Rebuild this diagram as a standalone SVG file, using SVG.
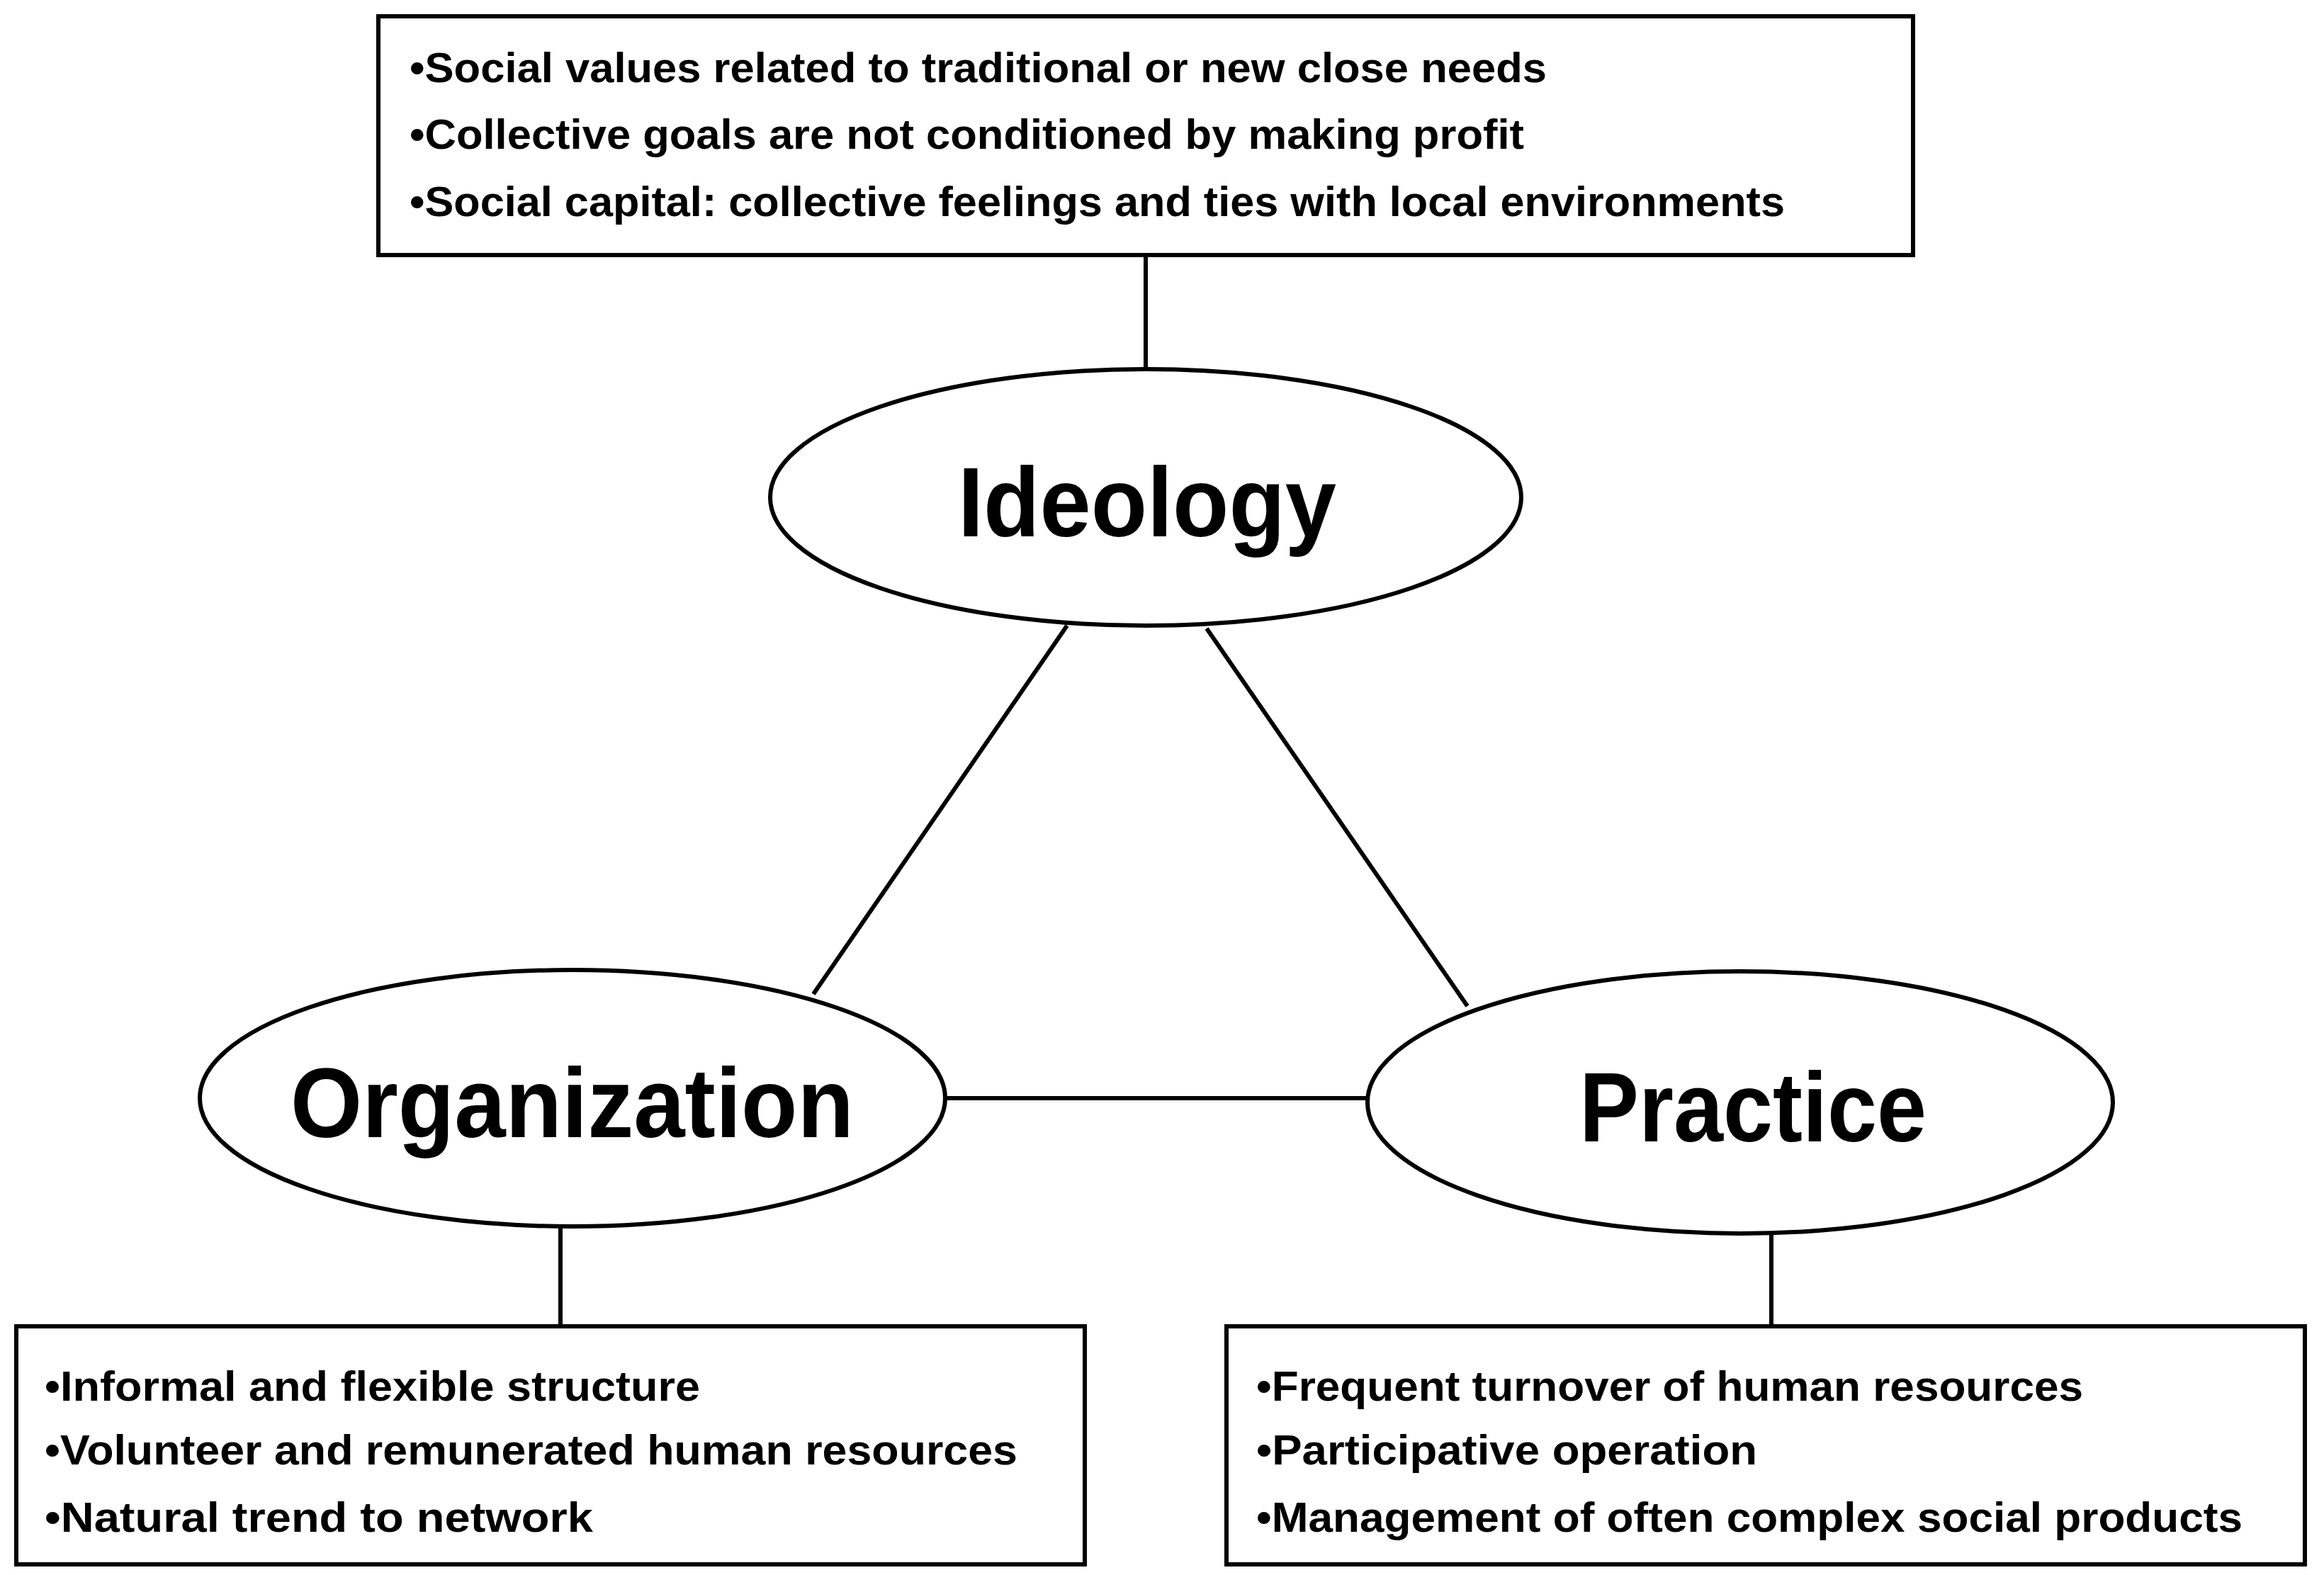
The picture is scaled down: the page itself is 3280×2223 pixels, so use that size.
<svg xmlns="http://www.w3.org/2000/svg" width="3280" height="2223" viewBox="0 0 3280 2223">
<style>
.s{fill:none;stroke:#000;stroke-width:6}
.e{fill:#fff;stroke:#000;stroke-width:6}
.t{font-family:"Liberation Sans",Arial,sans-serif;font-weight:bold;font-size:60px;fill:#000}
.b{font-family:"Liberation Sans",Arial,sans-serif;font-weight:bold;font-size:140px;fill:#000}
</style>
<rect width="3280" height="2223" fill="#fff"/>
<g id="connectors">
<line class="s" x1="1617" y1="360" x2="1617" y2="521"/>
<line class="s" x1="1506" y1="883" x2="1148" y2="1403"/>
<line class="s" x1="1703" y1="887" x2="2071" y2="1420"/>
<line class="s" x1="1333" y1="1550" x2="1930" y2="1550"/>
<line class="s" x1="791" y1="1731" x2="791" y2="1872"/>
<line class="s" x1="2500" y1="1741" x2="2500" y2="1872"/>
</g>
<g id="ideology-box">
<rect class="e" x="534" y="23" width="2166" height="337"/>
<text class="t" x="578" y="116" textLength="1605" lengthAdjust="spacingAndGlyphs">•Social values related to traditional or new close needs</text>
<text class="t" x="578" y="210" textLength="1573" lengthAdjust="spacingAndGlyphs">•Collective goals are not conditioned by making profit</text>
<text class="t" x="578" y="305" textLength="1941" lengthAdjust="spacingAndGlyphs">•Social capital: collective feelings and ties with local environments</text>
</g>
<g id="ideology">
<ellipse class="e" cx="1617" cy="702" rx="530" ry="181"/>
<text class="b" x="1352" y="757" textLength="534" lengthAdjust="spacingAndGlyphs">Ideology</text>
</g>
<g id="organization">
<ellipse class="e" cx="808" cy="1550" rx="526" ry="181"/>
<text class="b" x="410" y="1605" textLength="795" lengthAdjust="spacingAndGlyphs">Organization</text>
</g>
<g id="practice">
<ellipse class="e" cx="2456" cy="1556" rx="526" ry="185"/>
<text class="b" x="2229" y="1611" textLength="490" lengthAdjust="spacingAndGlyphs">Practice</text>
</g>
<g id="organization-box">
<rect class="e" x="23" y="1872" width="1508" height="336"/>
<text class="t" x="63" y="1977" textLength="925" lengthAdjust="spacingAndGlyphs">•Informal and flexible structure</text>
<text class="t" x="63" y="2067" textLength="1373" lengthAdjust="spacingAndGlyphs">•Volunteer and remunerated human resources</text>
<text class="t" x="63" y="2162" textLength="774" lengthAdjust="spacingAndGlyphs">•Natural trend to network</text>
</g>
<g id="practice-box">
<rect class="e" x="1731" y="1872" width="1522" height="336"/>
<text class="t" x="1773" y="1977" textLength="1167" lengthAdjust="spacingAndGlyphs">•Frequent turnover of human resources</text>
<text class="t" x="1773" y="2067" textLength="707" lengthAdjust="spacingAndGlyphs">•Participative operation</text>
<text class="t" x="1773" y="2162" textLength="1392" lengthAdjust="spacingAndGlyphs">•Management of often complex social products</text>
</g>
</svg>
